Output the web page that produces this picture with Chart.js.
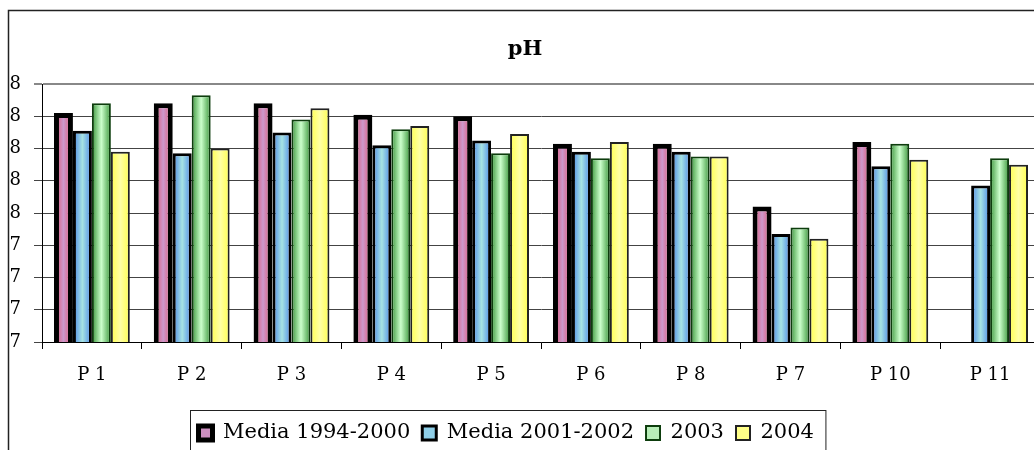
<!DOCTYPE html>
<html>
<head>
<meta charset="utf-8">
<script src="https://cdn.jsdelivr.net/npm/chart.js@4/dist/chart.umd.min.js"></script>
<style>
  html, body { margin: 0; padding: 0; background: #fff; overflow: hidden; }
  #c { display: block; }
</style>
</head>
<body>
<canvas id="c" width="1050" height="460"></canvas>
<script>
const categories = ['P 1', 'P 2', 'P 3', 'P 4', 'P 5', 'P 6', 'P 8', 'P 7', 'P 10', 'P 11'];
const media9400 = [8.22, 8.28, 8.28, 8.21, 8.20, 8.03, 8.03, 7.64, 8.04, null];
const media0102 = [8.11, 7.97, 8.10, 8.02, 8.05, 7.98, 7.98, 7.47, 7.89, 7.77];
const y2003 = [8.28, 8.33, 8.18, 8.12, 7.97, 7.94, 7.95, 7.51, 8.03, 7.94];
const y2004 = [7.98, 8.00, 8.25, 8.14, 8.09, 8.04, 7.95, 7.44, 7.93, 7.90];
const seriesNames = ['Media 1994-2000', 'Media 2001-2002', '2003', '2004'];
const yMin = 6.8, yMax = 8.4, yStep = 0.2;

// edge / middle colours of each bar's horizontal gradient
const fills = [
    ['#e64a68', '#cc99cc'],
    ['#4a86e8', '#a6e3e3'],
    ['#3a963a', '#ccffcc'],
    ['#ffff4d', '#ffffa6']
];

const serif = "'DejaVu Serif', serif";
const legendStartX = 198.5;

const barGradients = {
    id: 'barGradients',
    beforeDatasetsDraw(chart) {
        const ctx = chart.ctx;
        chart.data.datasets.forEach((ds, di) => {
            const meta = chart.getDatasetMeta(di);
            meta.data.forEach(bar => {
                const p = bar.getProps(['x', 'width'], true);
                if (!p.width) return;
                const g = ctx.createLinearGradient(p.x - p.width / 2, 0, p.x + p.width / 2, 0);
                g.addColorStop(0, fills[di][0]);
                g.addColorStop(0.5, fills[di][1]);
                g.addColorStop(1, fills[di][0]);
                bar.options = Object.assign({}, bar.options, { backgroundColor: g });
            });
        });
    }
};

const frames = {
    id: 'frames',
    beforeDraw(chart) {
        const lg = chart.legend;
        const pad = lg.options.labels.padding;
        const w = lg.right - lg.left;
        lg.left = legendStartX - pad;
        lg.right = lg.left + w;
    },
    afterDraw(chart) {
        const ctx = chart.ctx;
        const lg = chart.legend;
        const pad = lg.options.labels.padding;
        ctx.save();
        // outer chart border
        ctx.strokeStyle = '#222';
        ctx.lineWidth = 1.5;
        ctx.beginPath();
        ctx.moveTo(8.5, 470);
        ctx.lineTo(8.5, 10.5);
        ctx.lineTo(1100, 10.5);
        ctx.stroke();
        // legend border
        const end = legendStartX + lg.lineWidths[0] - pad;
        ctx.lineWidth = 1;
        ctx.strokeRect(legendStartX - 8, 410.5, end - legendStartX + 20, 42);
        ctx.restore();
    }
};

new Chart(document.getElementById('c'), {
    type: 'bar',
    data: {
        labels: categories,
        datasets: [
            { label: seriesNames[0], data: media9400, backgroundColor: '#cc8fc0', borderColor: '#000', borderWidth: 5 },
            { label: seriesNames[1], data: media0102, backgroundColor: '#8fcfe8', borderColor: '#000', borderWidth: 3 },
            { label: seriesNames[2], data: y2003, backgroundColor: '#b8eeb8', borderColor: '#0d3d0d', borderWidth: 2 },
            { label: seriesNames[3], data: y2004, backgroundColor: '#ffff88', borderColor: '#222', borderWidth: 2 }
        ]
    },
    options: {
        responsive: false,
        animation: false,
        categoryPercentage: 0.76,
        barPercentage: 1,
        datasets: { bar: { borderSkipped: false } },
        layout: { padding: { top: 10, left: 10, right: 10, bottom: 6.5 } },
        scales: {
            x: {
                grid: { offset: true, drawOnChartArea: false, drawTicks: true, tickLength: 7, color: '#000' },
                border: { color: '#000', width: 1 },
                ticks: { color: '#000', font: { family: serif, size: 18 }, padding: 16, maxRotation: 0 },
                afterFit: s => { s.height = 68.5; }
            },
            y: {
                min: yMin,
                max: yMax,
                grid: {
                    color: c => (c.tick && c.tick.value > yMax - 0.01) ? '#888' : '#444',
                    lineWidth: c => (c.tick && c.tick.value > yMax - 0.01) ? 2 : 1,
                    tickLength: 8
                },
                border: { color: '#000', width: 1 },
                ticks: {
                    stepSize: yStep,
                    color: '#000',
                    font: { family: serif, size: 18 },
                    padding: 13,
                    callback: v => Number(v).toFixed(0)
                },
                afterFit: s => { s.width = 32; }
            }
        },
        plugins: {
            title: {
                display: true,
                text: 'pH',
                color: '#000',
                font: { family: serif, size: 21, weight: 'bold' },
                padding: { top: 27.4, bottom: 21.4 }
            },
            legend: {
                position: 'bottom',
                align: 'start',
                labels: {
                    color: '#000',
                    font: { family: serif, size: 21 },
                    boxWidth: 14,
                    boxHeight: 14,
                    padding: 12
                }
            },
            tooltip: { enabled: false }
        }
    },
    plugins: [barGradients, frames]
});
</script>
</body>
</html>
